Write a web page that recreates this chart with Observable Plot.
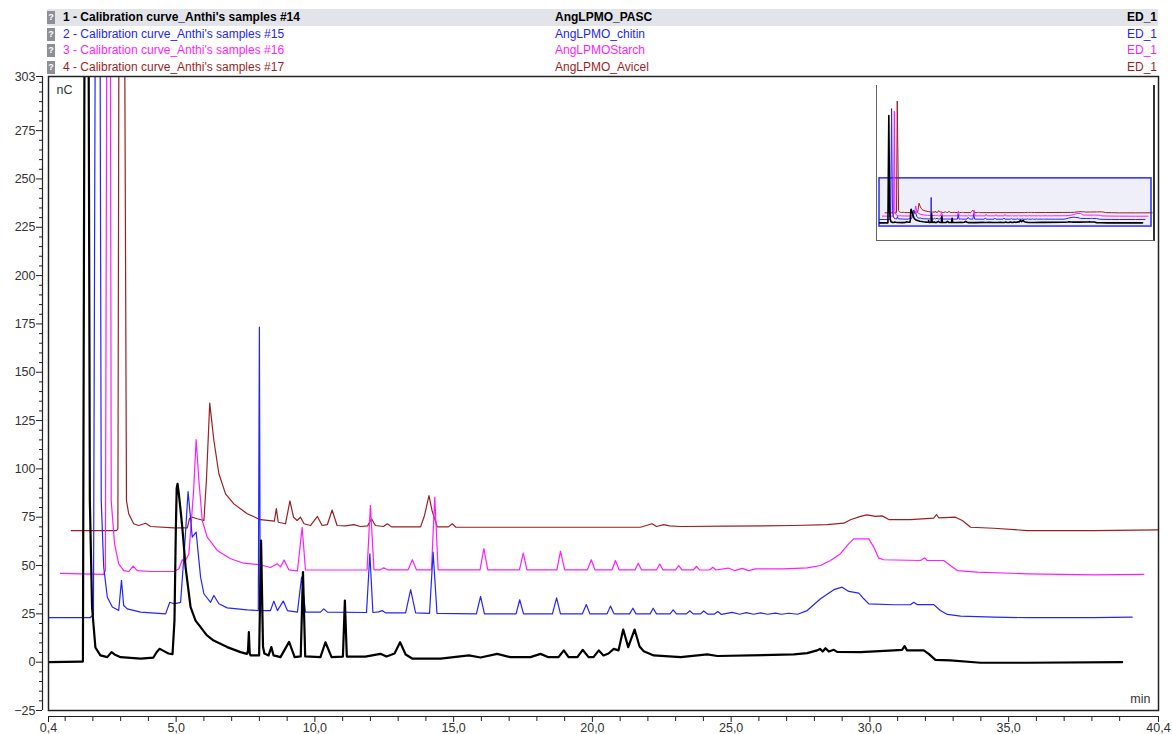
<!DOCTYPE html>
<html>
<head>
<meta charset="utf-8">
<script src="https://cdn.jsdelivr.net/npm/d3@7"></script>
<script src="https://cdn.jsdelivr.net/npm/@observablehq/plot@0.6"></script>
<style>
  body { margin: 0; background: #fff; font-family: "Liberation Sans", Arial, sans-serif; }
  #wrap { position: relative; width: 1172px; height: 734px; overflow: hidden; background: #fff; }
  #chart { position: absolute; left: 0; top: 0; }
  #inset { position: absolute; left: 876px; top: 85px; width: 276px; height: 155px;
           border-left: 1.5px solid #666; border-right: 2px solid #333; border-bottom: 1.5px solid #666; background: #fff; }
  #legend { position: absolute; left: 0; top: 0; width: 1172px; height: 76px; }
  .row { position: absolute; left: 47px; width: 1111px; height: 17px; line-height: 17px; font-size: 12px; white-space: pre; }
  .row.sel { background: #e3e3ea; font-weight: bold; }
  .ico { position: absolute; left: 0; top: 2px; width: 8px; height: 13px; background: #8e8e96; color: #fff;
         font-size: 9px; line-height: 13px; text-align: center; font-weight: bold; }
  .c1 { position: absolute; left: 16px; }
  .c2 { position: absolute; left: 508px; }
  .c3 { position: absolute; right: 1px; }
</style>
</head>
<body>
<div id="wrap">
  <div id="chart"></div>
  <div id="inset"></div>
  <div id="legend"></div>
</div>
<script>
// ---------------- data (retention time [min], signal [nC], as overlaid) ----------------
const sampleNames = [
  "1 - Calibration curve_Anthi's samples #14",
  "2 - Calibration curve_Anthi's samples #15",
  "3 - Calibration curve_Anthi's samples #16",
  "4 - Calibration curve_Anthi's samples #17"
];
const sampleTypes = ["AngLPMO_PASC", "AngLPMO_chitin", "AngLPMOStarch", "AngLPMO_Avicel"];
const channels = ["ED_1", "ED_1", "ED_1", "ED_1"];

const xDomain = [0.4, 40.4];
const yDomain = [-25, 303];
const xTickValues = [0.4, 5, 10, 15, 20, 25, 30, 35, 40.4];
const yTickValues = [303, 275, 250, 225, 200, 175, 150, 125, 100, 75, 50, 25, 0, -25];
const insetYDomain = [-120, 935];

const pasc = [
  [0.40,0],[1.59,0.3],[1.64,0.3],[1.77,730],[1.89,83.6],[1.97,28.3],[2.09,7.6],[2.27,3.5],[2.52,2.6],
  [2.67,5.2],[2.78,4.0],[3.00,2.6],[3.72,1.8],[4.18,2.4],[4.29,5.0],[4.40,6.9],[4.51,6.1],[4.72,4.5],
  [4.87,4.2],[4.94,21.6],[4.99,70.0],[5.02,90.0],[5.05,92.3],[5.09,88.0],[5.15,80.0],[5.22,70.0],[5.34,49.1],[5.52,28.5],
  [5.70,21.5],[5.88,18.1],[6.10,14.0],[6.35,11.2],[6.84,7.8],[7.32,5.2],[7.55,4.3],[7.59,6.0],[7.62,15.5],[7.65,4.5],[7.68,3.5],
  [7.99,3.5],[8.06,62.9],[8.13,8.0],[8.18,4.5],[8.33,3.5],[8.43,7.8],[8.51,3.5],[8.76,2.6],[9.07,10.5],
  [9.27,2.6],[9.49,3.0],[9.57,46.6],[9.65,3.0],[10.20,2.6],[10.38,10.3],[10.60,2.6],[11.01,2.9],
  [11.08,31.9],[11.15,2.9],[11.82,2.9],[12.36,4.3],[12.58,2.9],[12.87,4.5],[13.07,10.3],[13.27,4.0],
  [13.52,1.8],[14.53,1.8],[15.55,3.5],[15.97,2.4],[16.57,4.3],[17.05,2.6],[17.77,2.6],[18.13,4.3],
  [18.42,2.6],[18.78,2.6],[18.97,6.1],[19.14,2.6],[19.46,2.6],[19.65,6.4],[19.86,2.6],[20.04,2.6],
  [20.23,6.1],[20.40,3.5],[20.58,4.5],[20.77,6.9],[20.94,6.1],[21.11,16.9],[21.29,7.8],[21.52,16.9],
  [21.70,8.1],[21.85,5.7],[22.21,3.5],[23.18,2.6],[24.14,4.0],[24.50,3.2],[27.26,4.0],[27.74,4.7],
  [28.10,6.1],[28.20,6.9],[28.30,5.5],[28.40,7.2],[28.52,5.5],[28.70,6.4],[28.82,5.3],[29.66,5.2],
  [30.86,6.1],[31.16,6.4],[31.25,8.3],[31.34,6.1],[31.94,6.1],[32.12,4.3],[32.36,1.2],[32.90,0.9],
  [33.99,-0.3],[35.67,-0.3],[39.09,0]
];

const chitin = [
  [0.40,23.1],[1.91,23.1],[2.02,24.7],[2.18,778],[2.30,83.6],[2.39,49.1],[2.52,33.6],[2.70,28.5],
  [2.93,26.7],[3.03,42.3],[3.11,29.3],[3.24,27.6],[3.72,25.9],[4.62,25.0],[4.77,31.0],[4.92,30.2],
  [5.16,30.9],[5.32,63.0],[5.43,88.3],[5.58,64.7],[5.72,67.3],[5.88,44.0],[6.00,35.4],[6.24,31.0],
  [6.36,34.5],[6.54,30.2],[6.84,28.1],[7.56,27.1],[7.96,26.7],[8.00,173.3],[8.03,26.7],[8.40,26.7],
  [8.52,31.6],[8.65,26.7],[8.86,31.6],[9.01,26.7],[9.37,25.9],[9.52,44.0],[9.66,25.9],[10.20,25.9],
  [10.32,27.6],[10.45,25.9],[11.86,25.7],[11.98,56.1],[12.09,25.7],[12.29,26.0],[12.43,26.7],
  [12.54,25.5],[13.27,25.5],[13.45,37.5],[13.63,25.5],[14.13,25.2],[14.26,56.9],[14.40,25.2],
  [15.82,25.0],[15.97,34.0],[16.11,25.0],[17.25,25.0],[17.38,32.3],[17.52,25.0],[18.56,25.0],
  [18.71,33.3],[18.85,25.0],[19.64,25.0],[19.78,29.8],[19.91,25.0],[20.53,25.0],[20.65,29.0],
  [20.78,25.0],[21.34,25.0],[21.46,27.9],[21.57,25.0],[22.08,25.0],[22.19,27.9],[22.31,25.0],
  [22.80,25.0],[22.91,27.1],[23.03,25.0],[23.39,25.0],[23.51,26.6],[23.63,25.0],[23.90,25.0],
  [24.01,26.5],[24.15,24.9],[24.40,24.9],[24.52,26.2],[24.65,24.7],[25.04,25.8],[25.30,24.8],
  [25.55,25.6],[25.81,24.8],[26.06,25.5],[26.31,24.8],[26.60,25.4],[26.81,24.8],[27.08,25.3],
  [27.39,24.8],[27.74,26.7],[28.22,32.8],[28.70,37.5],[29.00,38.8],[29.24,36.6],[29.60,35.7],
  [29.78,32.8],[29.96,30.2],[30.86,29.7],[31.46,29.7],[31.58,31.0],[31.70,29.8],[32.30,29.8],
  [32.54,26.7],[32.79,24.7],[33.27,23.8],[34.47,23.3],[35.67,23.0],[38.07,23.0],[39.45,23.3]
];

const starch = [
  [0.83,45.9],[2.38,45.4],[2.45,47.4],[2.58,760],[2.66,83.6],[2.78,61.3],[2.93,50.9],[3.11,47.4],
  [3.29,46.9],[3.45,49.7],[3.60,47.4],[4.08,46.9],[4.92,46.9],[5.10,48.3],[5.22,53.0],[5.31,51.7],
  [5.46,56.1],[5.63,88.9],[5.72,115.1],[5.82,94.0],[5.94,73.3],[6.12,64.7],[6.48,57.8],[6.96,53.5],
  [7.44,51.2],[8.04,50.4],[8.40,49.0],[8.64,50.9],[8.76,49.3],[8.89,52.9],[9.06,47.8],[9.37,47.2],
  [9.54,69.8],[9.66,47.7],[11.88,47.8],[12.00,81.1],[12.13,47.8],[12.36,47.8],[12.48,48.8],
  [12.62,47.8],[13.36,47.8],[13.51,53.0],[13.66,47.8],[14.20,47.8],[14.32,85.4],[14.44,47.8],
  [15.95,47.8],[16.09,58.7],[16.23,47.8],[17.37,47.8],[17.51,56.4],[17.64,47.8],[18.72,47.8],
  [18.85,57.4],[19.00,47.8],[19.82,47.8],[19.96,53.0],[20.09,47.8],[20.71,47.8],[20.83,52.6],
  [20.96,47.8],[21.54,47.8],[21.65,51.2],[21.77,47.8],[22.31,47.8],[22.43,50.8],[22.54,47.8],
  [23.00,47.8],[23.11,50.0],[23.23,47.8],[23.64,47.8],[23.75,49.5],[23.86,47.7],[24.22,47.7],
  [24.34,49.1],[24.45,47.7],[24.89,48.7],[25.12,47.4],[25.40,48.5],[25.63,47.4],[25.88,48.3],
  [26.36,48.3],[26.84,48.3],[27.32,48.5],[27.74,48.8],[28.22,50.0],[28.58,52.6],[28.94,56.1],
  [29.24,61.3],[29.42,63.8],[29.96,63.8],[30.14,59.5],[30.32,53.8],[30.50,53.0],[31.82,52.6],
  [31.98,54.0],[32.06,52.6],[32.66,52.6],[32.90,50.0],[33.15,47.4],[33.87,46.6],[35.67,45.7],
  [38.07,45.2],[39.87,45.4]
];

const avicel = [
  [1.22,68.1],[2.85,68.1],[2.90,69.0],[3.01,829],[3.21,83.6],[3.29,76.8],[3.47,71.6],[3.65,70.7],
  [3.90,71.9],[4.08,70.2],[4.92,69.5],[5.40,69.5],[5.48,74.3],[5.58,75.0],[5.76,74.2],[6.00,73.3],
  [6.09,94.0],[6.21,134.0],[6.36,114.7],[6.54,97.5],[6.78,87.1],[7.08,81.9],[7.56,76.8],[8.04,73.7],
  [8.54,73.0],[8.61,79.4],[8.68,72.4],[8.94,71.6],[9.10,83.4],[9.23,75.0],[9.36,73.3],[9.48,75.0],
  [9.61,71.6],[9.84,70.7],[10.09,75.4],[10.26,70.7],[10.45,71.2],[10.62,78.7],[10.80,70.7],
  [11.10,70.5],[11.40,71.2],[11.64,70.2],[11.90,70.5],[12.04,74.2],[12.18,70.7],[12.47,70.2],
  [12.61,71.6],[12.76,70.0],[13.81,70.0],[13.95,75.9],[14.11,86.2],[14.22,78.5],[14.41,70.0],
  [14.81,70.0],[14.95,71.6],[15.08,69.8],[21.73,69.8],[22.15,71.6],[22.31,70.2],[22.57,71.2],
  [22.78,70.5],[23.18,70.2],[24.86,70.4],[27.26,70.7],[28.46,71.2],[29.06,71.9],[29.30,73.7],
  [29.66,75.4],[29.90,76.2],[30.20,75.4],[30.44,75.7],[30.68,73.8],[31.46,73.8],[32.30,74.5],
  [32.40,76.4],[32.48,74.7],[33.08,75.0],[33.33,73.3],[33.63,69.8],[34.47,69.3],[35.67,68.1],
  [38.07,68.1],[40.50,68.5]
];

// ---------------- styles ----------------
const colors = ["#000000", "#2424ff", "#ff1cff", "#9c1f1f"];
const widths = [2.2, 1.2, 1.2, 1.2];
const insetWidths = [1.6, 1, 1, 1];
const traces = [pasc, chitin, starch, avicel];
const rowsOf = pts => pts.map(([t, v]) => ({t, v}));
const fmtX = d => d.toFixed(1).replace(".", ",");
const yMinor = d3.range(yDomain[0], yDomain[1], 5).filter(d => !yTickValues.includes(d));
const xMinor = d3.range(1, 41, 1).filter(d => d % 5 !== 0);

const drawOrder = [3, 2, 1, 0];

const chart = Plot.plot({
  width: 1172, height: 734,
  marginTop: 76, marginBottom: 24, marginLeft: 48, marginRight: 14,
  style: {background: "transparent", fontFamily: "Liberation Sans, Arial, sans-serif", fontSize: "12px", color: "#222"},
  x: {domain: xDomain, label: null},
  y: {domain: yDomain, label: null},
  marks: [
    ...drawOrder.map(i => Plot.line(rowsOf(traces[i]), {x: "t", y: "v", stroke: colors[i], strokeWidth: widths[i], clip: true})),
    Plot.frame({stroke: "#222", strokeWidth: 1.5}),
    // y axis (offset to the left of the frame)
    Plot.ruleX([xDomain[0]], {dx: -6, stroke: "#222", strokeWidth: 1.2}),
    Plot.axisY(yMinor, {anchor: "left", dx: -6, tickSize: 3, text: null, label: null, stroke: "#222"}),
    Plot.axisY(yTickValues, {anchor: "left", dx: -6, tickSize: 6, tickPadding: 1, label: null, stroke: "#222", fill: "#333", fontSize: 12.5}),
    // x axis (offset below the frame)
    Plot.ruleY([yDomain[0]], {dy: 6, stroke: "#222", strokeWidth: 1.2}),
    Plot.axisX(xMinor, {anchor: "bottom", dy: 6, tickSize: 5, text: null, label: null, stroke: "#222"}),
    Plot.axisX(xTickValues, {anchor: "bottom", dy: 6, tickSize: 6, tickPadding: 1, label: null, tickFormat: fmtX, stroke: "#222", fill: "#333", fontSize: 12.5}),
    Plot.text(["nC"], {frameAnchor: "top-left", dx: 8, dy: 9, fill: "#333", fontSize: 12.5}),
    Plot.text(["min"], {frameAnchor: "bottom-right", dx: -8, dy: -8, fill: "#333", fontSize: 12.5})
  ]
});
document.getElementById("chart").append(chart);

// ---------------- overview inset ----------------
const viewBox = [{t1: xDomain[0], t2: xDomain[1], v1: yDomain[0], v2: yDomain[1]}];
const inset = Plot.plot({
  width: 276, height: 155,
  margin: 0,
  style: {background: "transparent"},
  x: {domain: xDomain, range: [2, 274], axis: null},
  y: {domain: insetYDomain, range: [155, 0], axis: null},
  marks: [
    Plot.rect(viewBox, {x1: "t1", x2: "t2", y1: "v1", y2: "v2", fill: "#efeffa", stroke: "#2a2aff", strokeWidth: 1.5}),
    ...drawOrder.map(i => Plot.line(rowsOf(traces[i]), {x: "t", y: "v", stroke: colors[i], strokeWidth: insetWidths[i], clip: true}))
  ]
});
document.getElementById("inset").append(inset);

// ---------------- header legend ----------------
const legend = document.getElementById("legend");
sampleNames.forEach((name, i) => {
  const row = document.createElement("div");
  row.className = "row" + (i === 0 ? " sel" : "");
  row.style.top = (9 + i * 16.6) + "px";
  row.style.color = colors[i];
  const ico = document.createElement("span"); ico.className = "ico"; ico.textContent = "?";
  const c1 = document.createElement("span"); c1.className = "c1"; c1.textContent = name;
  const c2 = document.createElement("span"); c2.className = "c2"; c2.textContent = sampleTypes[i];
  const c3 = document.createElement("span"); c3.className = "c3"; c3.textContent = channels[i];
  row.append(ico, c1, c2, c3);
  legend.append(row);
});
</script>
</body>
</html>
